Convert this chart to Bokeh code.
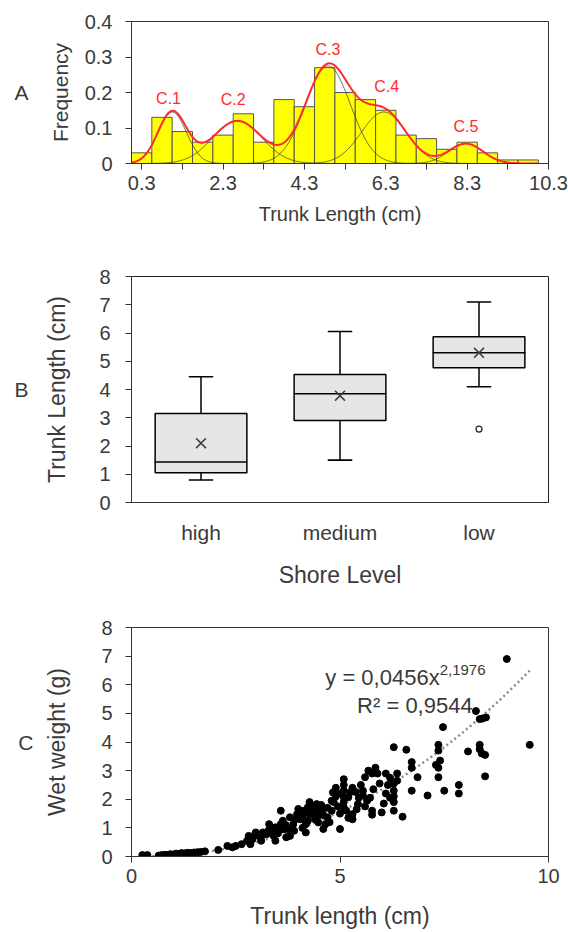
import numpy as np
from bokeh.plotting import figure
from bokeh.layouts import column
from bokeh.models import FixedTicker, Range1d, FactorRange, LinearAxis
from bokeh.core.properties import value
from bokeh.embed import file_html
from bokeh.resources import INLINE

FONT = "Liberation Sans"
TXT = "#3a3a3a"

# ---------------- Panel A data ----------------
bin_centers = [0.3, 0.8, 1.3, 1.8, 2.3, 2.8, 3.3, 3.8, 4.3, 4.8,
               5.3, 5.8, 6.3, 6.8, 7.3, 7.8, 8.3, 8.8, 9.3, 9.8]
frequency = [0.03, 0.13, 0.09, 0.06, 0.08, 0.14, 0.06, 0.18, 0.16, 0.27,
             0.20, 0.18, 0.15, 0.08, 0.07, 0.04, 0.06, 0.03, 0.01, 0.01]
comp_names = ["C.1", "C.2", "C.3", "C.4", "C.5"]
comp_mean = [1.05, 2.65, 4.88, 6.25, 8.27]
comp_sd = [0.35, 0.60, 0.55, 0.55, 0.42]
comp_amp = [0.145, 0.12, 0.275, 0.145, 0.056]
comp_label_x = [0.96, 2.55, 4.88, 6.32, 8.27]
comp_label_y = [0.184, 0.181, 0.32, 0.217, 0.103]
a_xticks = [0.3, 2.3, 4.3, 6.3, 8.3, 10.3]
a_xminor = [1.3, 3.3, 5.3, 7.3, 9.3]
a_yticks = [0, 0.1, 0.2, 0.3, 0.4]

# ---------------- Panel B data ----------------
shore = ["high", "medium", "low"]
whisk_low = [0.8, 1.5, 4.1]
q1 = [1.05, 2.9, 4.77]
median = [1.43, 3.85, 5.3]
q3 = [3.15, 4.53, 5.87]
whisk_high = [4.45, 6.05, 7.1]
means = [2.1, 3.78, 5.3]
outlier_cat = ["low"]
outlier_val = [2.6]

# ---------------- Panel C data ----------------
trunk = [0.26, 0.38, 0.65, 0.72, 0.8, 0.87, 0.93, 1.0, 1.07, 1.14, 1.2, 1.28, 1.35, 1.42, 1.5, 1.58, 1.66, 1.76,
         2.08, 2.3, 2.42, 2.5, 2.64, 2.77, 2.81, 2.85, 2.94, 2.98, 3.11, 3.15, 3.24, 3.28, 3.3, 3.41, 3.45, 3.45,
         3.54, 3.58, 3.58, 3.63, 3.71, 3.75, 3.8, 3.8, 3.88, 3.93, 3.97, 4.0, 4.1, 4.14, 4.18, 4.18, 4.23, 4.23,
         4.27, 4.27, 4.35, 4.44, 4.48, 4.48, 4.57, 4.6, 4.65, 4.7, 4.7, 4.8, 4.83, 4.8, 4.85, 4.9, 4.9, 5.0,
         5.09, 5.09, 5.09, 5.09, 5.09, 5.09, 5.2, 5.3, 5.38, 5.3, 5.3, 5.43, 5.55, 5.65, 5.5, 5.6, 5.68, 5.85,
         5.77, 5.9, 5.77, 5.77, 6.0, 6.1, 6.15, 6.1, 6.2, 6.29, 6.37, 6.37, 6.29, 6.29, 6.29, 6.29, 6.29, 6.5,
         6.59, 6.72, 6.72, 6.72, 6.86, 7.1, 7.3, 7.36, 7.4, 7.36, 7.5, 7.36, 7.36, 7.47, 7.85, 7.85, 8.07, 8.26,
         8.35, 8.42, 8.5, 8.35, 8.35, 8.48, 8.4, 8.48, 9.0, 9.55,
         3.35, 3.5, 3.65, 3.9, 4.05, 4.1, 4.35, 4.4, 4.55, 4.6, 4.75, 4.95, 4.95, 5.0, 5.15, 5.2, 5.25, 5.45,
         5.55, 5.6, 5.72, 5.8, 5.95, 6.05, 6.2, 5.4, 4.45, 4.2, 3.7, 3.1, 2.9]
weight = [0.05, 0.05, 0.03, 0.05, 0.06, 0.05, 0.08, 0.07, 0.1, 0.09, 0.12, 0.11, 0.13, 0.12, 0.14, 0.15, 0.16, 0.18,
          0.23, 0.37, 0.32, 0.37, 0.43, 0.55, 0.72, 0.43, 0.72, 0.84, 0.55, 0.84, 0.78, 0.9, 1.13, 0.72, 0.55, 1.02,
          0.9, 1.13, 1.6, 1.25, 0.67, 0.96, 0.72, 1.37, 1.13, 1.3, 1.48, 1.66, 1.43, 1.6, 1.13, 0.84, 1.25, 1.72,
          1.48, 1.9, 1.72, 1.83, 1.43, 1.19, 1.6, 0.96, 1.13, 1.37, 1.7, 1.95, 2.24, 1.6, 1.9, 2.1, 2.4, 0.96,
          2.7, 2.5, 2.3, 2.07, 1.9, 1.72, 2.07, 2.4, 2.25, 1.48, 1.3, 1.83, 2.13, 1.95, 2.5, 2.77, 3.0, 3.1,
          2.9, 2.9, 1.6, 1.46, 1.54, 2.9, 2.5, 2.2, 2.05, 3.82, 2.9, 2.65, 2.55, 2.3, 2.1, 1.9, 1.6, 1.39,
          3.73, 3.3, 3.1, 2.3, 2.77, 2.13, 3.2, 3.1, 3.35, 2.77, 2.3, 3.9, 3.7, 4.52, 2.5, 2.2, 3.67, 5.08,
          4.8, 4.82, 4.86, 3.9, 3.75, 3.55, 3.6, 2.8, 6.9, 3.9,
          0.95, 0.8, 0.95, 0.9, 1.3, 1.0, 1.5, 1.3, 1.8, 1.45, 1.2, 1.75, 2.2, 1.5, 1.6, 1.35, 2.25, 2.05,
          2.3, 1.75, 2.05, 2.35, 2.55, 1.85, 2.75, 1.65, 1.6, 1.55, 1.1, 0.65, 0.6]
fit_a = 0.0456
fit_b = 2.1976


def style_axes(p, tick_size="20px", title_size="20px"):
    for ax in (p.xaxis, p.yaxis):
        ax.axis_line_color = "#333333"
        ax.major_tick_line_color = "#333333"
        ax.minor_tick_line_color = None
        ax.major_tick_in = 0
        ax.major_tick_out = 6
        ax.major_label_text_font = FONT
        ax.major_label_text_font_size = tick_size
        ax.major_label_text_color = TXT
        ax.axis_label_text_font = FONT
        ax.axis_label_text_font_size = title_size
        ax.axis_label_text_font_style = "normal"
        ax.axis_label_text_color = TXT
    p.xgrid.grid_line_color = None
    p.ygrid.grid_line_color = None
    p.outline_line_color = "#333333"
    p.background_fill_color = "white"
    p.border_fill_color = "white"


def add_panel_letter(p, letter, standoff):
    ax = LinearAxis(axis_label=letter, axis_label_orientation="horizontal",
                    ticker=FixedTicker(ticks=[]), axis_line_color=None,
                    major_tick_line_color=None, minor_tick_line_color=None,
                    major_tick_out=0, major_tick_in=0, major_label_standoff=0,
                    axis_label_standoff=standoff, axis_label_text_font=FONT,
                    axis_label_text_font_size="21px", axis_label_text_font_style="normal",
                    axis_label_text_color=TXT)
    p.add_layout(ax, "left")


# ================= Panel A =================
pA = figure(width=568, height=240, x_range=Range1d(0.05, 10.3), y_range=Range1d(0, 0.4),
            output_backend="svg", toolbar_location=None,
            min_border_left=131, min_border_right=20, min_border_top=21, min_border_bottom=77)
style_axes(pA, "20px", "20px")
pA.xaxis.ticker = FixedTicker(ticks=a_xticks, minor_ticks=a_xminor)
pA.xaxis.minor_tick_line_color = "#333333"
pA.xaxis.minor_tick_in = 0
pA.xaxis.minor_tick_out = 6
pA.xaxis.major_label_standoff = 6
pA.xaxis.axis_label_standoff = 10
pA.yaxis.ticker = FixedTicker(ticks=a_yticks)
pA.yaxis.major_label_overrides = {t: ("0" if t == 0 else str(t)) for t in a_yticks}
pA.yaxis.major_label_standoff = 13
pA.yaxis.axis_label_standoff = 10
pA.yaxis.axis_label_text_font_size = "21px"
pA.xaxis.axis_label = "Trunk Length (cm)"
pA.yaxis.axis_label = "Frequency"
add_panel_letter(pA, "A", 17)

pA.vbar(x=bin_centers, top=frequency, width=0.5, fill_color="#ffff00",
        line_color="#555555", line_width=1)

xs = np.linspace(0.05, 10.05, 500)
total = np.zeros_like(xs)
for m, s, a in zip(comp_mean, comp_sd, comp_amp):
    comp = a * np.exp(-0.5 * ((xs - m) / s) ** 2)
    total += comp
    pA.line(xs, comp, line_color="#404040", line_width=0.9, line_alpha=0.85)
pA.line(xs, total, line_color="#ff2a2a", line_width=2)
pA.text(x=comp_label_x, y=comp_label_y, text=comp_names, text_color="#ff2a2a",
        text_font=value(FONT), text_font_size="16px", text_align="center", text_baseline="middle")

# ================= Panel B =================
pB = figure(width=568, height=360, x_range=FactorRange(*shore), y_range=Range1d(0, 8),
            output_backend="svg", toolbar_location=None,
            min_border_left=131, min_border_right=20, min_border_top=36, min_border_bottom=98)
style_axes(pB, "20px", "23px")
pB.xaxis.major_tick_line_color = None
pB.xaxis.major_tick_out = 0
pB.xaxis.major_label_text_font_size = "21px"
pB.xaxis.major_label_standoff = 18
pB.xaxis.axis_label_standoff = 15
pB.xaxis.axis_label = "Shore Level"
pB.yaxis.axis_label = "Trunk Length (cm)"
pB.yaxis.ticker = FixedTicker(ticks=list(range(0, 9)))
pB.yaxis.major_label_standoff = 15
pB.yaxis.axis_label_standoff = 26
pB.outline_line_color = "#222222"
add_panel_letter(pB, "B", 13)

pB.segment(x0=shore, y0=q3, x1=shore, y1=whisk_high, line_color="black", line_width=1.5)
pB.segment(x0=shore, y0=whisk_low, x1=shore, y1=q1, line_color="black", line_width=1.5)
pB.rect(x=shore, y=whisk_high, width=0.17, height=0.0001, line_color="black", line_width=1.5)
pB.rect(x=shore, y=whisk_low, width=0.17, height=0.0001, line_color="black", line_width=1.5)
pB.vbar(x=shore, bottom=q1, top=q3, width=0.66, fill_color="#e6e6e6", line_color="black", line_width=1.5)
pB.rect(x=shore, y=median, width=0.66, height=0.0001, line_color="black", line_width=1.5)
pB.scatter(x=shore, y=means, marker="x", size=14, line_color="#404040", line_width=1.6)
pB.scatter(x=outlier_cat, y=outlier_val, marker="circle", size=6, fill_color="white",
           line_color="#222222", line_width=1.2)

# ================= Panel C =================
pC = figure(width=568, height=332, x_range=Range1d(0, 10), y_range=Range1d(0, 8),
            output_backend="svg", toolbar_location=None,
            min_border_left=131, min_border_right=19, min_border_top=27, min_border_bottom=76)
style_axes(pC, "20px", "23px")
pC.xaxis.ticker = FixedTicker(ticks=[0, 5, 10])
pC.yaxis.ticker = FixedTicker(ticks=list(range(0, 9)))
pC.xaxis.major_label_standoff = 6
pC.xaxis.axis_label_standoff = 17
pC.yaxis.major_label_standoff = 13
pC.yaxis.axis_label_standoff = 28
pC.xaxis.axis_label = "Trunk length (cm)"
pC.yaxis.axis_label = "Wet weight (g)"
add_panel_letter(pC, "C", 8)

fx = np.linspace(min(trunk), max(trunk), 200)
pC.line(fx, fit_a * fx ** fit_b, line_color="#8c8c8c", line_width=2.5, line_dash="2 3")
pC.scatter(trunk, weight, marker="circle", size=7, fill_color="black", line_color="black")
pC.text(x=[7.39], y=[6.26], text=["y = 0,0456x"], text_color=TXT, text_font=value(FONT),
        text_font_size="22px", text_align="right", text_baseline="middle")
pC.text(x=[7.39], y=[6.52], text=["2,1976"], text_color=TXT, text_font=value(FONT),
        text_font_size="15px", text_align="left", text_baseline="middle")
pC.text(x=[5.41], y=[5.28], text=["R² = 0,9544"], text_color=TXT, text_font=value(FONT),
        text_font_size="22px", text_align="left", text_baseline="middle")

p = column(pA, pB, pC, spacing=0)
open("out.html", "w").write(file_html(p, INLINE))
